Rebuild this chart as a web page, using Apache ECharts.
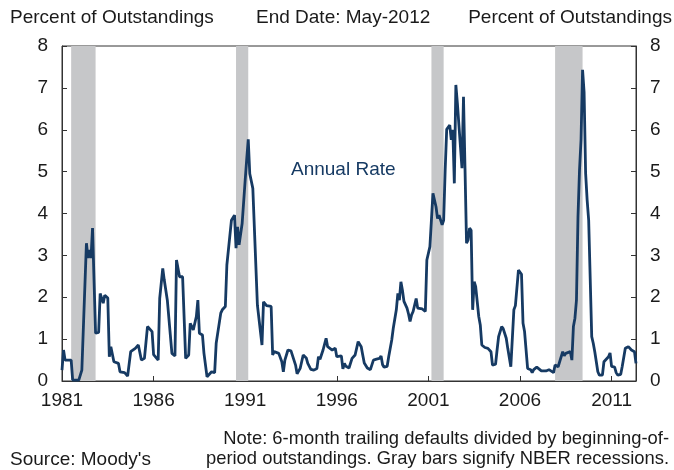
<!DOCTYPE html>
<html>
<head>
<meta charset="utf-8">
<script src="https://cdn.jsdelivr.net/npm/echarts@6/dist/echarts.min.js"></script>
<style>
html,body{margin:0;padding:0;background:#fff;}
#c{width:674px;height:470px;}
</style>
</head>
<body>
<div id="c"></div>
<script>
// Months since Jan 1981
var months = [0,1,2,6,7,11,13,14,16,17,18,19,20,22,24,25,27,28,30,31,32,34,37,38,41,43,45,48,50,52,54,56,59,60,63,64,66,67,69,72,74,75,77,79,81,83,84,86,88,89,90,92,93,95,96,98,100,101,104,105,107,108,109,111,113,114,115,116,118,120,121,122,123,124,125,128,129,131,132,134,137,138,139,142,144,145,146,148,150,153,154,156,158,160,161,162,163,165,167,168,169,171,173,174,175,177,179,180,181,183,184,185,186,188,190,191,192,194,196,197,198,200,202,203,204,206,208,209,210,211,213,214,216,217,219,220,221,222,223,224,226,227,228,229,230,232,233,234,236,238,239,241,242,243,244,245,246,247,249,250,251,252,253,254,255,256,257,258,259,260,262,263,264,265,266,267,268,269,270,271,273,274,275,277,279,281,282,284,285,286,288,289,291,292,294,295,296,297,298,299,300,301,302,303,304,305,307,308,309,310,311,312,314,315,317,319,320,322,323,325,326,328,329,330,331,333,334,335,336,337,338,339,340,341,342,343,344,345,347,348,349,351,352,354,355,356,358,359,360,362,363,364,366,367,368,369,371,372,373,375,376];
// Annual default rate, percent of outstandings
var annualRate = [0.26,0.74,0.5,0.5,0.02,0.02,0.26,0.3,3.29,2.94,3.13,2.94,3.65,1.14,1.16,2.09,1.86,2.05,1.98,0.58,0.82,0.46,0.42,0.22,0.2,0.12,0.70,0.78,0.86,0.5,0.54,1.30,1.18,0.63,0.5,1.97,2.69,2.41,1.93,0.66,0.6,2.89,2.49,2.49,0.54,0.62,1.38,1.22,1.54,1.93,1.14,1.1,0.66,0.1,0.1,0.22,0.2,0.9,1.62,1.7,1.78,2.77,2.77,3.84,3.96,3.17,3.68,3.25,3.76,4.8,5.3,5.77,4.95,4.98,4.6,1.81,1.8,0.86,1.89,1.8,1.78,0.62,0.7,0.66,0.46,0.22,0.5,0.74,0.72,0.38,0.17,0.3,0.62,0.55,0.42,0.44,0.28,0.26,0.3,0.58,0.52,0.74,1.02,0.82,0.86,0.74,0.78,0.58,0.54,0.6,0.29,0.42,0.35,0.31,0.54,0.58,0.62,0.94,0.82,0.62,0.43,0.31,0.27,0.3,0.5,0.52,0.54,0.6,0.39,0.33,0.35,0.58,0.98,1.26,1.70,2.09,1.93,2.37,2.17,1.9,1.74,1.6,1.42,1.58,1.66,1.97,1.74,1.74,1.72,1.66,2.89,3.21,3.25,4.48,4.5,4.16,3.88,3.96,3.73,3.84,5.04,6.01,6.05,6.11,5.76,6.0,4.72,7.07,6.63,6.6,5.08,6.79,5.06,3.29,3.37,3.65,3.6,1.70,2.37,2.25,1.54,1.34,0.86,0.8,0.78,0.70,0.38,0.4,0.74,1.06,1.30,1.25,1.02,0.78,0.34,0.34,1.70,1.8,1.8,2.65,2.63,2.55,1.38,1.18,1.16,0.30,0.27,0.2,0.27,0.26,0.33,0.3,0.24,0.27,0.24,0.27,0.24,0.2,0.38,0.34,0.38,0.70,0.6,0.66,0.7,0.7,0.5,1.30,1.5,1.93,3.92,5.04,5.76,7.43,6.9,4.96,4.32,3.84,1.06,0.9,0.7,0.22,0.14,0.14,0.46,0.46,0.58,0.67,0.35,0.33,0.2,0.14,0.16,0.35,0.36,0.78,0.82,0.86,0.74,0.7,0.42];
// NBER recessions [start, end] in months since Jan 1981
var recessions = [[6,22],[114,122],[242,250],[323,341]];
var xTickLabels = ['1981','1986','1991','1996','2001','2006','2011'];
var yTickLabels = ['0','1','2','3','4','5','6','7','8'];

var FONT = 'Liberation Sans, Arial, Helvetica, sans-serif';
var FS = 19;
var FS_NOTE = 18.4;
var LINE = '#163a63';
var AX = '#333333';

var seriesData = months.map(function(m, i){ return [m, annualRate[i]]; });
var areas = recessions.map(function(r){ return [{xAxis:r[0]},{xAxis:r[1]}]; });

function yAxisCfg(pos){
  return {
    type:'value', position:pos, min:0, max:8, interval:1,
    axisLine:{show:true, lineStyle:{color:AX, width:1}},
    axisTick:{show:true, inside:true, length:5, lineStyle:{color:AX}},
    axisLabel:{color:'#1a1a1a', fontSize:FS, fontFamily:FONT, margin:14,
      formatter:function(v){ return yTickLabels[Math.round(v)]; }},
    splitLine:{show:false}
  };
}

var chart = echarts.init(document.getElementById('c'), null, {renderer:'canvas'});
chart.setOption({
  animation:false,
  backgroundColor:'#ffffff',
  grid:{left:62, right:38, top:46, bottom:89, show:true, borderColor:AX, borderWidth:1, backgroundColor:'transparent'},
  xAxis:{
    type:'value', min:0, max:376, interval:60,
    axisLine:{show:true, onZero:false, lineStyle:{color:AX, width:1}},
    axisTick:{show:true, inside:true, length:5, lineStyle:{color:AX}},
    axisLabel:{color:'#1a1a1a', fontSize:FS, fontFamily:FONT, margin:10, showMaxLabel:false,
      formatter:function(v){ return xTickLabels[Math.round(v/60)] || ''; }},
    splitLine:{show:false}
  },
  yAxis:[yAxisCfg('left'), yAxisCfg('right')],
  series:[{
    type:'line', data:seriesData, showSymbol:false, smooth:false,
    lineStyle:{color:LINE, width:2.8}, z:3,
    markArea:{silent:true, itemStyle:{color:'#c6c7c9'}, data:areas, z:1}
  }],
  graphic:[
    {type:'text', left:10, top:8, style:{text:'Percent of Outstandings', fontSize:FS, fontFamily:FONT, fill:'#1a1a1a'}},
    {type:'text', left:256, top:8, style:{text:'End Date: May-2012', fontSize:FS, fontFamily:FONT, fill:'#1a1a1a'}},
    {type:'text', right:2, top:8, style:{text:'Percent of Outstandings', fontSize:FS, fontFamily:FONT, fill:'#1a1a1a'}},
    {type:'text', left:291, top:160, style:{text:'Annual Rate', fontSize:FS, fontFamily:FONT, fill:LINE}},
    {type:'text', right:5, top:430, style:{text:'Note: 6-month trailing defaults divided by beginning-of-', fontSize:FS_NOTE, fontFamily:FONT, fill:'#1a1a1a'}},
    {type:'text', right:5, top:450, style:{text:'period outstandings. Gray bars signify NBER recessions.', fontSize:FS_NOTE, fontFamily:FONT, fill:'#1a1a1a'}},
    {type:'text', left:10, top:450, style:{text:"Source: Moody's", fontSize:FS, fontFamily:FONT, fill:'#1a1a1a'}}
  ]
});
</script>
</body>
</html>
